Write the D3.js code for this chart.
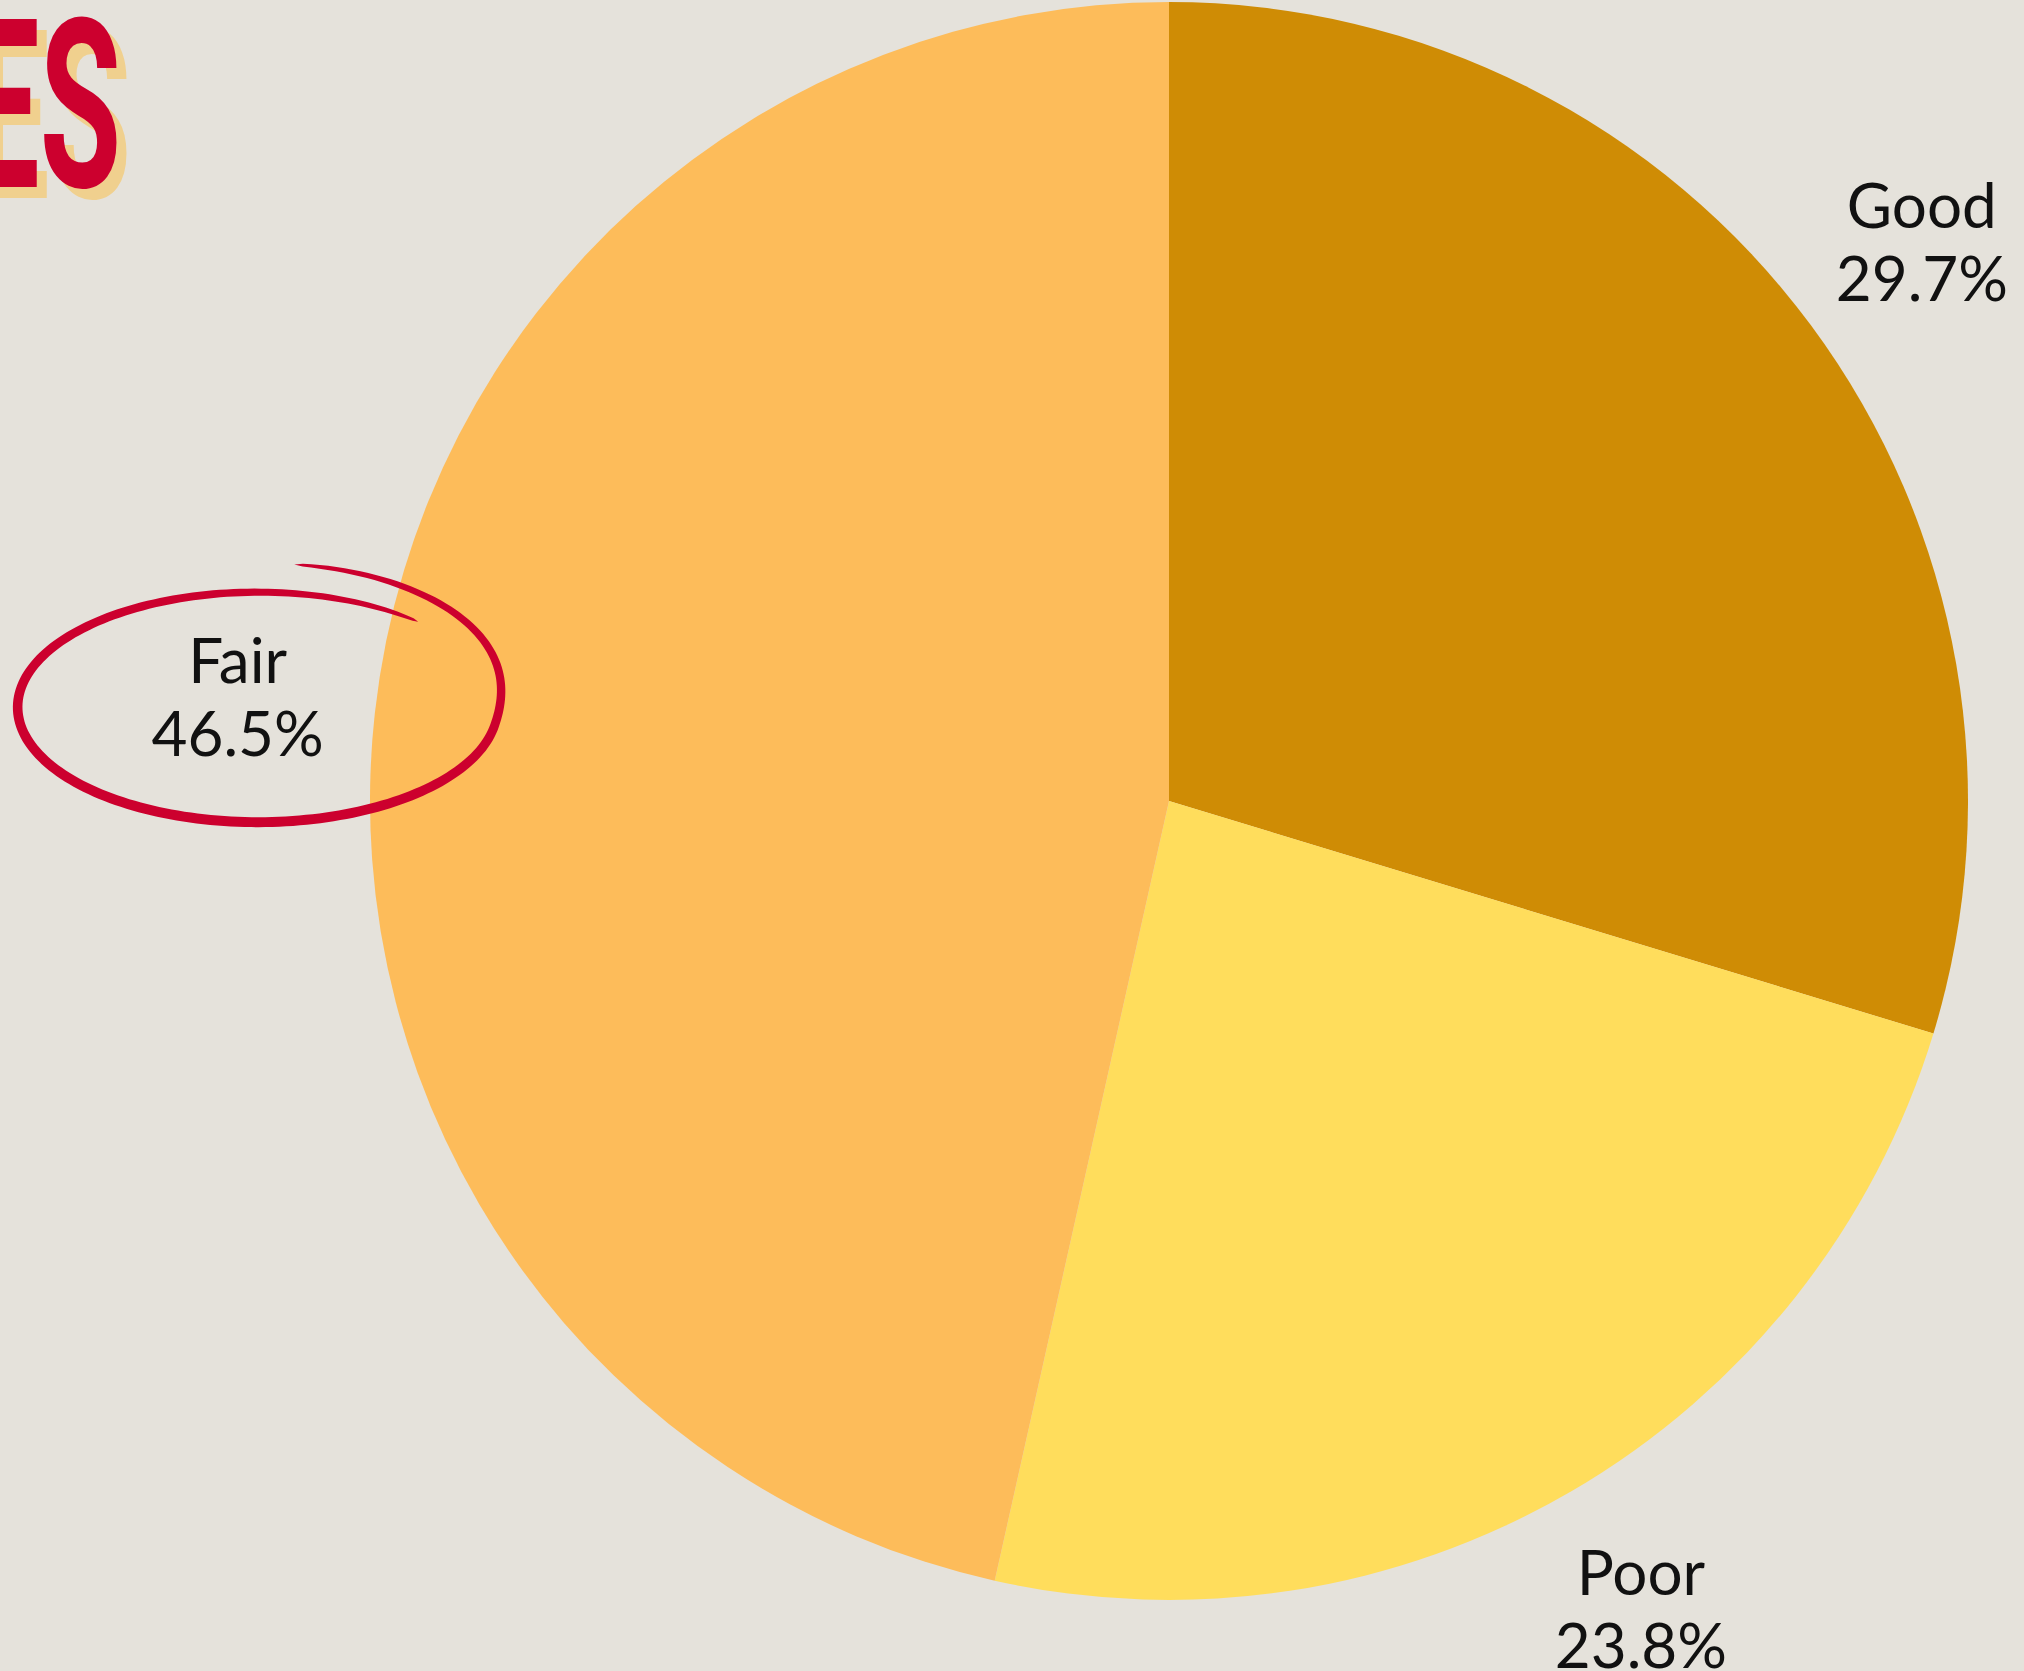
<!DOCTYPE html>
<html>
<head>
<meta charset="utf-8">
<script src="https://cdn.jsdelivr.net/npm/d3@7"></script>
<style>
  html, body { margin: 0; padding: 0; background: #e5e2db; overflow: hidden; }
  svg { display: block; }
</style>
</head>
<body>
<div id="chart"></div>
<script>
// data
var categories = ["Good", "Poor", "Fair"];
var shares = [29.7, 23.8, 46.5];
var sliceColors = ["#cf8c05", "#ffdd5c", "#fdbc5a"];
var highlighted = "Fair";

var width = 2024, height = 1671;
var cx = 1169, cy = 801, radius = 799;
var labelRadius = 937;

var svg = d3.select("#chart").append("svg")
    .attr("width", width)
    .attr("height", height);

svg.append("rect")
    .attr("width", width)
    .attr("height", height)
    .attr("fill", "#e5e2db");

// title remnant, cut off at the left edge
var title = svg.append("g")
    .attr("transform", "translate(121,187) scale(0.56,1)");
title.append("text")
    .attr("x", 18).attr("y", 11)
    .attr("text-anchor", "end")
    .style("font-family", "Roboto")
    .style("font-weight", 700)
    .style("font-size", "236px")
    .attr("fill", "#f0d08e")
    .text("ES");
title.append("text")
    .attr("x", 0).attr("y", 0)
    .attr("text-anchor", "end")
    .style("font-family", "Roboto")
    .style("font-weight", 700)
    .style("font-size", "236px")
    .attr("fill", "#cc002e")
    .text("ES");

var data = categories.map(function (c, i) {
    return {name: c, value: shares[i], color: sliceColors[i]};
});

var pie = d3.pie()
    .sort(null)
    .value(function (d) { return d.value; });

var arc = d3.arc()
    .innerRadius(0)
    .outerRadius(radius);

var labelArc = d3.arc()
    .innerRadius(labelRadius)
    .outerRadius(labelRadius);

var g = svg.append("g")
    .attr("transform", "translate(" + cx + "," + cy + ")");

var arcs = pie(data);

g.selectAll(".slice")
    .data(arcs)
    .enter().append("path")
    .attr("class", "slice")
    .attr("d", arc)
    .attr("fill", function (d) { return d.data.color; });

// labels
var labels = g.selectAll(".label")
    .data(arcs)
    .enter().append("text")
    .attr("class", "label")
    .attr("transform", function (d) {
        var c = labelArc.centroid(d);
        return "translate(" + c[0] + "," + c[1] + ")";
    })
    .attr("text-anchor", "middle")
    .style("font-family", "Lato")
    .style("font-size", "62px")
    .attr("fill", "#111");

labels.append("tspan")
    .attr("x", 0).attr("y", -15)
    .text(function (d) { return d.data.name; });
labels.append("tspan")
    .attr("x", 0).attr("y", 58)
    .text(function (d) { return d3.format(".1f")(d.data.value) + "%"; });

// hand-drawn circle around the highlighted label
var hl = arcs.filter(function (d) { return d.data.name === highlighted; })[0];
var hc = labelArc.centroid(hl);
var ex = hc[0] + 20, ey = hc[1] + 9, rx = 240, ry = 115;
var t0 = -48 * Math.PI / 180, t1 = -443 * Math.PI / 180;
var n = 240, maxW = 10;
var outer = [], inner = [];
var pts = d3.range(n + 1).map(function (i) {
    var f = i / n;
    var t = t0 + (t1 - t0) * f;
    var deg = -t * 180 / Math.PI;
    var k = Math.max(0, Math.min(1, (deg - 350) / 93));
    var s = 1 + 0.25 * k * k * (3 - 2 * k);
    return [ex + rx * s * Math.cos(t), ey + ry * s * Math.sin(t), f];
});
pts.forEach(function (p, i) {
    var a = pts[Math.max(0, i - 1)], b = pts[Math.min(n, i + 1)];
    var dx = b[0] - a[0], dy = b[1] - a[1], len = Math.sqrt(dx * dx + dy * dy) || 1;
    var nx = -dy / len, ny = dx / len;
    var w = maxW * Math.pow(Math.sin(Math.PI * p[2]), 0.3) / 2;
    outer.push([p[0] + nx * w, p[1] + ny * w]);
    inner.push([p[0] - nx * w, p[1] - ny * w]);
});
g.append("path")
    .attr("d", d3.line().curve(d3.curveLinearClosed)(outer.concat(inner.reverse())))
    .attr("fill", "#cc002e");
</script>
</body>
</html>
